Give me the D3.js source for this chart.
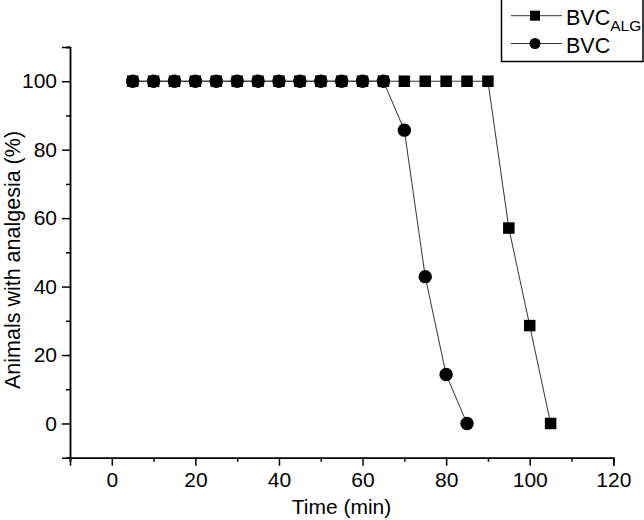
<!DOCTYPE html>
<html><head><meta charset="utf-8">
<script src="https://cdn.jsdelivr.net/npm/d3@7"></script>
<style>body{margin:0;background:#fff}svg{display:block}text{font-family:"Liberation Sans",Arial,sans-serif;fill:#000}</style>
</head><body>
<svg id="c" width="644" height="520"></svg>
<script>
const timesALG = [5,10,15,20,25,30,35,40,45,50,55,60,65,70,75,80,85,90,95,100,105];
const valuesALG = [100,100,100,100,100,100,100,100,100,100,100,100,100,100,100,100,100,100,57.1,28.6,0];
const timesBVC = [5,10,15,20,25,30,35,40,45,50,55,60,65,70,75,80,85];
const valuesBVC = [100,100,100,100,100,100,100,100,100,100,100,100,100,85.7,42.9,14.3,0];
const xTicks = [0,20,40,60,80,100,120];
const xMinor = [-10,10,30,50,70,90,110];
const yTicks = [0,20,40,60,80,100];
const yMinor = [-10,10,30,50,70,90,110];

const svg = d3.select("#c");
const x = d3.scaleLinear().domain([-10,120]).range([70,613.3]);
const y = d3.scaleLinear().domain([-10,110]).range([457.7,47]);

const g = svg.append("g");
const xAxis = g.append("g").attr("transform",`translate(0,${y(-10)})`)
  .call(d3.axisBottom(x).tickValues(xTicks).tickSizeOuter(0).tickSize(8).tickPadding(6).tickFormat(d3.format("d")));
const xAxisMinor = g.append("g").attr("transform",`translate(0,${y(-10)})`)
  .call(d3.axisBottom(x).tickValues(xMinor).tickSizeOuter(0).tickSize(4).tickFormat(""));
const yAxis = g.append("g").attr("transform",`translate(${x(-10)},0)`)
  .call(d3.axisLeft(y).tickValues(yTicks).tickSizeOuter(0).tickSize(8).tickPadding(5).tickFormat(d3.format("d")));
const yAxisMinor = g.append("g").attr("transform",`translate(${x(-10)},0)`)
  .call(d3.axisLeft(y).tickValues(yMinor).tickSizeOuter(0).tickSize(4).tickFormat(""));
[xAxis,xAxisMinor,yAxis,yAxisMinor].forEach(a=>{
  a.selectAll("path,line").attr("stroke","#000").attr("stroke-width",1.5);
  a.selectAll("text").attr("font-size",21).attr("font-family","Liberation Sans, Arial, sans-serif").attr("fill","#000");
});

svg.append("text").attr("x",341.5).attr("y",514).attr("text-anchor","middle").attr("font-size",21).text("Time (min)");
svg.append("text").attr("transform","translate(20,260) rotate(-90)").attr("text-anchor","middle").attr("font-size",21.5).text("Animals with analgesia (%)");

const line = d3.line().x(d=>x(d[0])).y(d=>y(d[1]));
const dALG = timesALG.map((t,i)=>[t,valuesALG[i]]);
const dBVC = timesBVC.map((t,i)=>[t,valuesBVC[i]]);

svg.append("path").attr("d",line(dALG)).attr("fill","none").attr("stroke","#333").attr("stroke-width",1);
svg.append("path").attr("d",line(dBVC)).attr("fill","none").attr("stroke","#333").attr("stroke-width",1);

const sq = 11.5;
svg.append("g").selectAll("rect").data(dALG).join("rect")
  .attr("x",d=>x(d[0])-sq/2).attr("y",d=>y(d[1])-sq/2).attr("width",sq).attr("height",sq).attr("fill","#000");
svg.append("g").selectAll("circle").data(dBVC).join("circle")
  .attr("cx",d=>x(d[0])).attr("cy",d=>y(d[1])).attr("r",6.7).attr("fill","#000");

const lg = svg.append("g");
lg.append("rect").attr("x",501.5).attr("y",-1).attr("width",141.5).attr("height",62.5)
  .attr("fill","#fff").attr("stroke","#000").attr("stroke-width",1.5);
const rows = [{y:15.7,type:"sq"},{y:43.5,type:"ci"}];
rows.forEach(r=>{
  lg.append("line").attr("x1",511).attr("x2",562).attr("y1",r.y).attr("y2",r.y).attr("stroke","#333").attr("stroke-width",1);
  if(r.type==="sq") lg.append("rect").attr("x",535-5).attr("y",r.y-5).attr("width",10).attr("height",10).attr("fill","#000");
  else lg.append("circle").attr("cx",535).attr("cy",r.y).attr("r",5.5).attr("fill","#000");
});
const t1 = lg.append("text").attr("x",566).attr("y",25).attr("font-size",21.5);
t1.append("tspan").text("BVC");
t1.append("tspan").attr("font-size",15.5).attr("dy",6).text("ALG");
lg.append("text").attr("x",566).attr("y",53).attr("font-size",21.5).text("BVC");
</script>
</body></html>
